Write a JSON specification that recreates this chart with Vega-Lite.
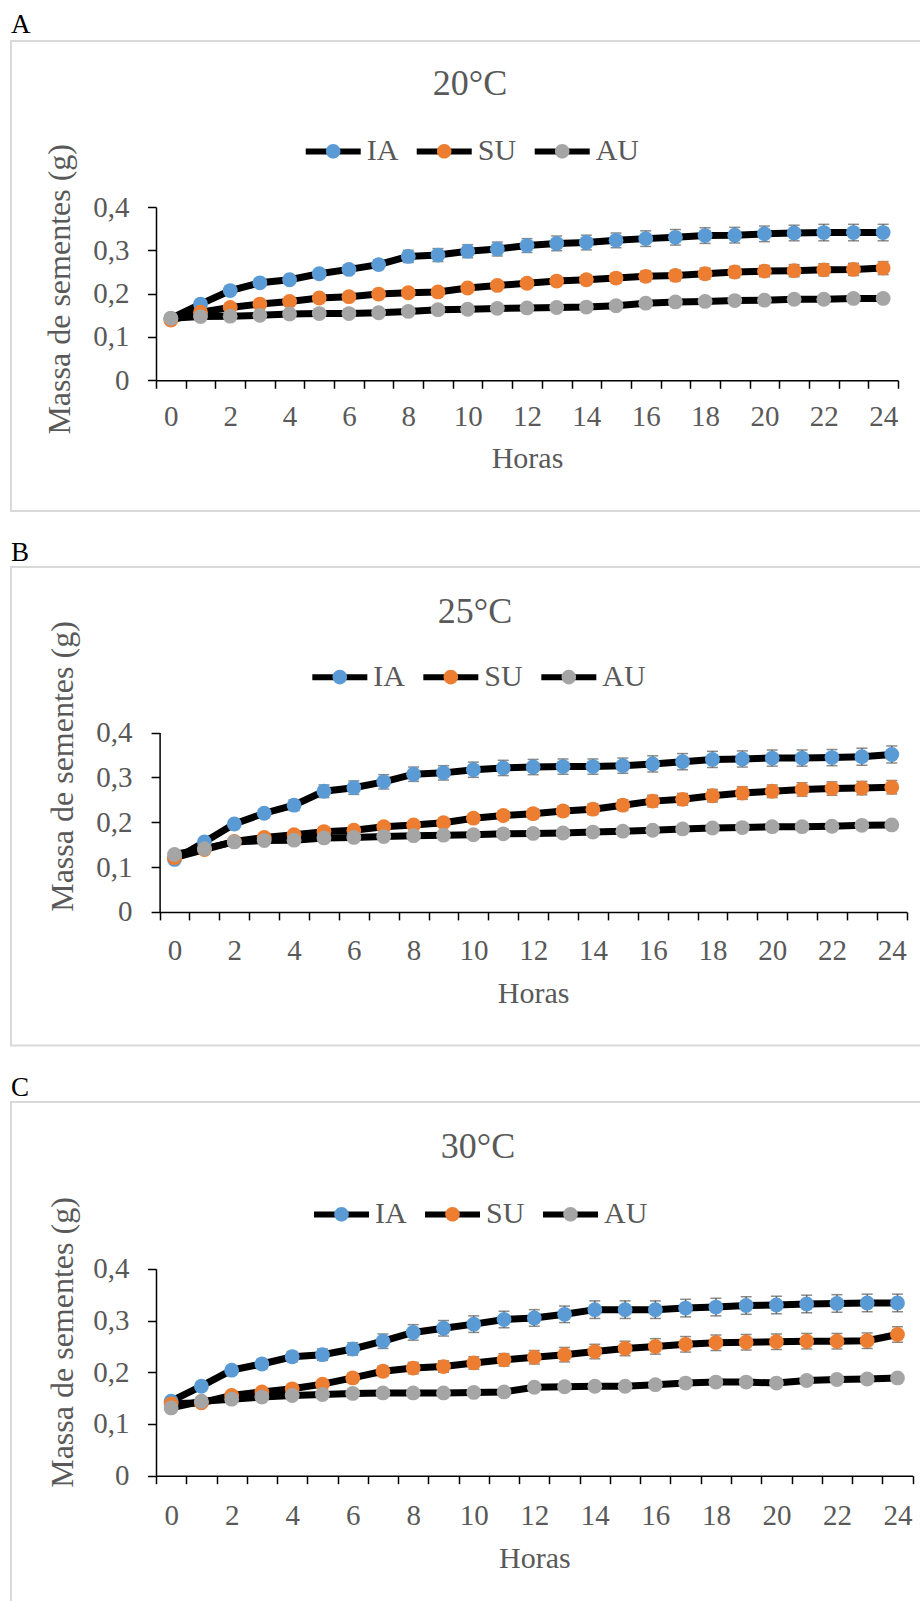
{
  "$schema": "https://vega.github.io/schema/vega-lite/v6.json",
  "padding": {"left": 10, "top": 11, "right": 0, "bottom": 0},
  "background": "white",
  "config": {
    "font": "Liberation Serif",
    "view": {"stroke": "#D9D9D9", "strokeWidth": 2},
    "axis": {"labelFont": "Liberation Serif", "titleFont": "Liberation Serif", "titleFontWeight": "normal", "domainColor": "black", "domainWidth": 1.5, "tickColor": "black", "tickWidth": 1.5, "labelColor": "#595959", "titleColor": "#595959", "labelFontSize": 29, "titleFontSize": 30, "grid": false},
    "legend": {"labelFont": "Liberation Serif", "labelFontSize": 30, "labelColor": "#595959", "padding": 0, "title": null, "orient": "none", "direction": "horizontal", "symbolSize": 3025, "symbolStrokeWidth": 6, "labelOffset": 6, "columnPadding": 6}
  },
  "datasets": {
    "d": [
      {"p":"A","s":"IA","h":0,"m":0.143,"e":0.004},{"p":"A","s":"IA","h":1,"m":0.176,"e":0.005},{"p":"A","s":"IA","h":2,"m":0.207,"e":0.006},{"p":"A","s":"IA","h":3,"m":0.225,"e":0.007},{"p":"A","s":"IA","h":4,"m":0.232,"e":0.008},{"p":"A","s":"IA","h":5,"m":0.246,"e":0.009},{"p":"A","s":"IA","h":6,"m":0.256,"e":0.010},{"p":"A","s":"IA","h":7,"m":0.267,"e":0.011},{"p":"A","s":"IA","h":8,"m":0.286,"e":0.014},{"p":"A","s":"IA","h":9,"m":0.289,"e":0.015},{"p":"A","s":"IA","h":10,"m":0.298,"e":0.015},{"p":"A","s":"IA","h":11,"m":0.303,"e":0.016},{"p":"A","s":"IA","h":12,"m":0.311,"e":0.016},{"p":"A","s":"IA","h":13,"m":0.316,"e":0.017},{"p":"A","s":"IA","h":14,"m":0.318,"e":0.017},{"p":"A","s":"IA","h":15,"m":0.323,"e":0.017},{"p":"A","s":"IA","h":16,"m":0.327,"e":0.018},{"p":"A","s":"IA","h":17,"m":0.330,"e":0.018},{"p":"A","s":"IA","h":18,"m":0.334,"e":0.018},{"p":"A","s":"IA","h":19,"m":0.335,"e":0.018},{"p":"A","s":"IA","h":20,"m":0.338,"e":0.018},{"p":"A","s":"IA","h":21,"m":0.340,"e":0.018},{"p":"A","s":"IA","h":22,"m":0.341,"e":0.019},{"p":"A","s":"IA","h":23,"m":0.341,"e":0.019},{"p":"A","s":"IA","h":24,"m":0.341,"e":0.019},
      {"p":"A","s":"SU","h":0,"m":0.139,"e":0.003},{"p":"A","s":"SU","h":1,"m":0.157,"e":0.004},{"p":"A","s":"SU","h":2,"m":0.168,"e":0.005},{"p":"A","s":"SU","h":3,"m":0.176,"e":0.005},{"p":"A","s":"SU","h":4,"m":0.182,"e":0.006},{"p":"A","s":"SU","h":5,"m":0.190,"e":0.006},{"p":"A","s":"SU","h":6,"m":0.193,"e":0.007},{"p":"A","s":"SU","h":7,"m":0.199,"e":0.007},{"p":"A","s":"SU","h":8,"m":0.202,"e":0.008},{"p":"A","s":"SU","h":9,"m":0.204,"e":0.008},{"p":"A","s":"SU","h":10,"m":0.213,"e":0.009},{"p":"A","s":"SU","h":11,"m":0.219,"e":0.009},{"p":"A","s":"SU","h":12,"m":0.224,"e":0.010},{"p":"A","s":"SU","h":13,"m":0.229,"e":0.010},{"p":"A","s":"SU","h":14,"m":0.232,"e":0.011},{"p":"A","s":"SU","h":15,"m":0.236,"e":0.011},{"p":"A","s":"SU","h":16,"m":0.240,"e":0.012},{"p":"A","s":"SU","h":17,"m":0.242,"e":0.012},{"p":"A","s":"SU","h":18,"m":0.246,"e":0.013},{"p":"A","s":"SU","h":19,"m":0.250,"e":0.013},{"p":"A","s":"SU","h":20,"m":0.252,"e":0.013},{"p":"A","s":"SU","h":21,"m":0.253,"e":0.014},{"p":"A","s":"SU","h":22,"m":0.255,"e":0.014},{"p":"A","s":"SU","h":23,"m":0.256,"e":0.014},{"p":"A","s":"SU","h":24,"m":0.259,"e":0.015},
      {"p":"A","s":"AU","h":0,"m":0.143,"e":0.002},{"p":"A","s":"AU","h":1,"m":0.147,"e":0.003},{"p":"A","s":"AU","h":2,"m":0.148,"e":0.003},{"p":"A","s":"AU","h":3,"m":0.150,"e":0.003},{"p":"A","s":"AU","h":4,"m":0.153,"e":0.003},{"p":"A","s":"AU","h":5,"m":0.154,"e":0.004},{"p":"A","s":"AU","h":6,"m":0.154,"e":0.004},{"p":"A","s":"AU","h":7,"m":0.156,"e":0.004},{"p":"A","s":"AU","h":8,"m":0.159,"e":0.004},{"p":"A","s":"AU","h":9,"m":0.163,"e":0.005},{"p":"A","s":"AU","h":10,"m":0.164,"e":0.005},{"p":"A","s":"AU","h":11,"m":0.166,"e":0.005},{"p":"A","s":"AU","h":12,"m":0.167,"e":0.005},{"p":"A","s":"AU","h":13,"m":0.168,"e":0.005},{"p":"A","s":"AU","h":14,"m":0.169,"e":0.006},{"p":"A","s":"AU","h":15,"m":0.172,"e":0.006},{"p":"A","s":"AU","h":16,"m":0.178,"e":0.006},{"p":"A","s":"AU","h":17,"m":0.181,"e":0.006},{"p":"A","s":"AU","h":18,"m":0.182,"e":0.006},{"p":"A","s":"AU","h":19,"m":0.184,"e":0.006},{"p":"A","s":"AU","h":20,"m":0.185,"e":0.007},{"p":"A","s":"AU","h":21,"m":0.187,"e":0.007},{"p":"A","s":"AU","h":22,"m":0.187,"e":0.007},{"p":"A","s":"AU","h":23,"m":0.189,"e":0.007},{"p":"A","s":"AU","h":24,"m":0.189,"e":0.007},
      {"p":"B","s":"IA","h":0,"m":0.117,"e":0.004},{"p":"B","s":"IA","h":1,"m":0.156,"e":0.006},{"p":"B","s":"IA","h":2,"m":0.196,"e":0.008},{"p":"B","s":"IA","h":3,"m":0.220,"e":0.010},{"p":"B","s":"IA","h":4,"m":0.238,"e":0.012},{"p":"B","s":"IA","h":5,"m":0.269,"e":0.014},{"p":"B","s":"IA","h":6,"m":0.277,"e":0.015},{"p":"B","s":"IA","h":7,"m":0.290,"e":0.016},{"p":"B","s":"IA","h":8,"m":0.307,"e":0.016},{"p":"B","s":"IA","h":9,"m":0.310,"e":0.016},{"p":"B","s":"IA","h":10,"m":0.317,"e":0.017},{"p":"B","s":"IA","h":11,"m":0.321,"e":0.017},{"p":"B","s":"IA","h":12,"m":0.323,"e":0.017},{"p":"B","s":"IA","h":13,"m":0.324,"e":0.017},{"p":"B","s":"IA","h":14,"m":0.324,"e":0.017},{"p":"B","s":"IA","h":15,"m":0.326,"e":0.017},{"p":"B","s":"IA","h":16,"m":0.330,"e":0.018},{"p":"B","s":"IA","h":17,"m":0.335,"e":0.018},{"p":"B","s":"IA","h":18,"m":0.340,"e":0.018},{"p":"B","s":"IA","h":19,"m":0.341,"e":0.018},{"p":"B","s":"IA","h":20,"m":0.343,"e":0.018},{"p":"B","s":"IA","h":21,"m":0.343,"e":0.018},{"p":"B","s":"IA","h":22,"m":0.344,"e":0.018},{"p":"B","s":"IA","h":23,"m":0.346,"e":0.019},{"p":"B","s":"IA","h":24,"m":0.351,"e":0.019},
      {"p":"B","s":"SU","h":0,"m":0.121,"e":0.003},{"p":"B","s":"SU","h":1,"m":0.139,"e":0.004},{"p":"B","s":"SU","h":2,"m":0.157,"e":0.005},{"p":"B","s":"SU","h":3,"m":0.166,"e":0.006},{"p":"B","s":"SU","h":4,"m":0.172,"e":0.006},{"p":"B","s":"SU","h":5,"m":0.179,"e":0.007},{"p":"B","s":"SU","h":6,"m":0.182,"e":0.007},{"p":"B","s":"SU","h":7,"m":0.190,"e":0.008},{"p":"B","s":"SU","h":8,"m":0.194,"e":0.008},{"p":"B","s":"SU","h":9,"m":0.199,"e":0.009},{"p":"B","s":"SU","h":10,"m":0.209,"e":0.010},{"p":"B","s":"SU","h":11,"m":0.215,"e":0.010},{"p":"B","s":"SU","h":12,"m":0.219,"e":0.011},{"p":"B","s":"SU","h":13,"m":0.225,"e":0.011},{"p":"B","s":"SU","h":14,"m":0.229,"e":0.012},{"p":"B","s":"SU","h":15,"m":0.238,"e":0.012},{"p":"B","s":"SU","h":16,"m":0.247,"e":0.013},{"p":"B","s":"SU","h":17,"m":0.251,"e":0.013},{"p":"B","s":"SU","h":18,"m":0.259,"e":0.014},{"p":"B","s":"SU","h":19,"m":0.265,"e":0.014},{"p":"B","s":"SU","h":20,"m":0.269,"e":0.014},{"p":"B","s":"SU","h":21,"m":0.273,"e":0.015},{"p":"B","s":"SU","h":22,"m":0.275,"e":0.015},{"p":"B","s":"SU","h":23,"m":0.276,"e":0.015},{"p":"B","s":"SU","h":24,"m":0.278,"e":0.015},
      {"p":"B","s":"AU","h":0,"m":0.128,"e":0.002},{"p":"B","s":"AU","h":1,"m":0.141,"e":0.003},{"p":"B","s":"AU","h":2,"m":0.156,"e":0.003},{"p":"B","s":"AU","h":3,"m":0.159,"e":0.003},{"p":"B","s":"AU","h":4,"m":0.160,"e":0.003},{"p":"B","s":"AU","h":5,"m":0.165,"e":0.004},{"p":"B","s":"AU","h":6,"m":0.166,"e":0.004},{"p":"B","s":"AU","h":7,"m":0.168,"e":0.004},{"p":"B","s":"AU","h":8,"m":0.170,"e":0.004},{"p":"B","s":"AU","h":9,"m":0.171,"e":0.005},{"p":"B","s":"AU","h":10,"m":0.172,"e":0.005},{"p":"B","s":"AU","h":11,"m":0.174,"e":0.005},{"p":"B","s":"AU","h":12,"m":0.175,"e":0.005},{"p":"B","s":"AU","h":13,"m":0.176,"e":0.005},{"p":"B","s":"AU","h":14,"m":0.178,"e":0.006},{"p":"B","s":"AU","h":15,"m":0.180,"e":0.006},{"p":"B","s":"AU","h":16,"m":0.182,"e":0.006},{"p":"B","s":"AU","h":17,"m":0.185,"e":0.006},{"p":"B","s":"AU","h":18,"m":0.187,"e":0.006},{"p":"B","s":"AU","h":19,"m":0.188,"e":0.006},{"p":"B","s":"AU","h":20,"m":0.190,"e":0.007},{"p":"B","s":"AU","h":21,"m":0.190,"e":0.007},{"p":"B","s":"AU","h":22,"m":0.191,"e":0.007},{"p":"B","s":"AU","h":23,"m":0.193,"e":0.007},{"p":"B","s":"AU","h":24,"m":0.194,"e":0.007},
      {"p":"C","s":"IA","h":0,"m":0.144,"e":0.004},{"p":"C","s":"IA","h":1,"m":0.173,"e":0.006},{"p":"C","s":"IA","h":2,"m":0.204,"e":0.008},{"p":"C","s":"IA","h":3,"m":0.216,"e":0.009},{"p":"C","s":"IA","h":4,"m":0.230,"e":0.010},{"p":"C","s":"IA","h":5,"m":0.234,"e":0.011},{"p":"C","s":"IA","h":6,"m":0.245,"e":0.012},{"p":"C","s":"IA","h":7,"m":0.260,"e":0.014},{"p":"C","s":"IA","h":8,"m":0.277,"e":0.015},{"p":"C","s":"IA","h":9,"m":0.285,"e":0.015},{"p":"C","s":"IA","h":10,"m":0.293,"e":0.016},{"p":"C","s":"IA","h":11,"m":0.302,"e":0.016},{"p":"C","s":"IA","h":12,"m":0.305,"e":0.016},{"p":"C","s":"IA","h":13,"m":0.312,"e":0.016},{"p":"C","s":"IA","h":14,"m":0.321,"e":0.017},{"p":"C","s":"IA","h":15,"m":0.321,"e":0.017},{"p":"C","s":"IA","h":16,"m":0.321,"e":0.017},{"p":"C","s":"IA","h":17,"m":0.324,"e":0.017},{"p":"C","s":"IA","h":18,"m":0.326,"e":0.017},{"p":"C","s":"IA","h":19,"m":0.329,"e":0.017},{"p":"C","s":"IA","h":20,"m":0.330,"e":0.017},{"p":"C","s":"IA","h":21,"m":0.332,"e":0.017},{"p":"C","s":"IA","h":22,"m":0.333,"e":0.017},{"p":"C","s":"IA","h":23,"m":0.334,"e":0.017},{"p":"C","s":"IA","h":24,"m":0.334,"e":0.017},
      {"p":"C","s":"SU","h":0,"m":0.139,"e":0.003},{"p":"C","s":"SU","h":1,"m":0.141,"e":0.004},{"p":"C","s":"SU","h":2,"m":0.155,"e":0.005},{"p":"C","s":"SU","h":3,"m":0.162,"e":0.006},{"p":"C","s":"SU","h":4,"m":0.168,"e":0.007},{"p":"C","s":"SU","h":5,"m":0.177,"e":0.008},{"p":"C","s":"SU","h":6,"m":0.189,"e":0.009},{"p":"C","s":"SU","h":7,"m":0.202,"e":0.010},{"p":"C","s":"SU","h":8,"m":0.208,"e":0.011},{"p":"C","s":"SU","h":9,"m":0.211,"e":0.011},{"p":"C","s":"SU","h":10,"m":0.218,"e":0.012},{"p":"C","s":"SU","h":11,"m":0.224,"e":0.012},{"p":"C","s":"SU","h":12,"m":0.229,"e":0.013},{"p":"C","s":"SU","h":13,"m":0.234,"e":0.014},{"p":"C","s":"SU","h":14,"m":0.240,"e":0.014},{"p":"C","s":"SU","h":15,"m":0.246,"e":0.014},{"p":"C","s":"SU","h":16,"m":0.250,"e":0.015},{"p":"C","s":"SU","h":17,"m":0.254,"e":0.015},{"p":"C","s":"SU","h":18,"m":0.257,"e":0.015},{"p":"C","s":"SU","h":19,"m":0.258,"e":0.015},{"p":"C","s":"SU","h":20,"m":0.259,"e":0.015},{"p":"C","s":"SU","h":21,"m":0.260,"e":0.015},{"p":"C","s":"SU","h":22,"m":0.260,"e":0.015},{"p":"C","s":"SU","h":23,"m":0.261,"e":0.015},{"p":"C","s":"SU","h":24,"m":0.273,"e":0.015},
      {"p":"C","s":"AU","h":0,"m":0.131,"e":0.002},{"p":"C","s":"AU","h":1,"m":0.144,"e":0.003},{"p":"C","s":"AU","h":2,"m":0.148,"e":0.003},{"p":"C","s":"AU","h":3,"m":0.152,"e":0.003},{"p":"C","s":"AU","h":4,"m":0.155,"e":0.003},{"p":"C","s":"AU","h":5,"m":0.157,"e":0.004},{"p":"C","s":"AU","h":6,"m":0.159,"e":0.004},{"p":"C","s":"AU","h":7,"m":0.160,"e":0.004},{"p":"C","s":"AU","h":8,"m":0.160,"e":0.004},{"p":"C","s":"AU","h":9,"m":0.160,"e":0.005},{"p":"C","s":"AU","h":10,"m":0.161,"e":0.005},{"p":"C","s":"AU","h":11,"m":0.162,"e":0.005},{"p":"C","s":"AU","h":12,"m":0.171,"e":0.005},{"p":"C","s":"AU","h":13,"m":0.172,"e":0.005},{"p":"C","s":"AU","h":14,"m":0.173,"e":0.006},{"p":"C","s":"AU","h":15,"m":0.173,"e":0.006},{"p":"C","s":"AU","h":16,"m":0.176,"e":0.006},{"p":"C","s":"AU","h":17,"m":0.179,"e":0.006},{"p":"C","s":"AU","h":18,"m":0.181,"e":0.006},{"p":"C","s":"AU","h":19,"m":0.181,"e":0.006},{"p":"C","s":"AU","h":20,"m":0.179,"e":0.007},{"p":"C","s":"AU","h":21,"m":0.184,"e":0.007},{"p":"C","s":"AU","h":22,"m":0.186,"e":0.007},{"p":"C","s":"AU","h":23,"m":0.187,"e":0.007},{"p":"C","s":"AU","h":24,"m":0.189,"e":0.007}
    ]
  },
  "data": {"name": "d"},
  "spacing": 26,
  "resolve": {"scale": {"stroke": "independent", "fill": "independent"}},
  "vconcat": [
    {
      "title": {"text": "A", "anchor": "start", "frame": "group", "fontSize": 27, "color": "black", "fontWeight": "normal", "font": "Liberation Serif", "baseline": "alphabetic", "offset": -20.3},
      "resolve": {"scale": {"stroke": "independent", "fill": "independent"}},
      "vconcat": [
        {
          "width": 912, "height": 470,
          "title": {"text": "20°C", "fontSize": 36, "offset": -90.3, "dx": 3, "baseline": "alphabetic", "frame": "group", "anchor": "middle", "color": "#595959", "fontWeight": "normal", "font": "Liberation Serif"},
          "transform": [{"filter": "datum.p == 'A'"}],
          "encoding": {
            "x": {"field": "h", "type": "ordinal", "scale": {"type": "band", "range": [145, 887], "paddingInner": 0, "paddingOuter": 0},
              "axis": {"orient": "bottom", "offset": -130.7, "tickBand": "extent", "labelAngle": 0, "labelOverlap": false, "labelExpr": "datum.value % 2 == 0 ? datum.label : ''", "tickSize": 8, "labelPadding": 14.5, "title": "Horas", "titlePadding": 11.5}},
            "y": {"field": "m", "type": "quantitative", "scale": {"domain": [0, 0.4], "range": [339.3, 166], "nice": false, "zero": false},
              "axis": {"orient": "left", "offset": -145, "values": [0, 0.1, 0.2, 0.3, 0.4], "labelExpr": "datum.value == 0 ? '0' : replace(format(datum.value, '.1f'), '.', ',')", "tickSize": 8.5, "labelPadding": 18.5, "title": "Massa de sementes (g)", "titleFontSize": 32, "titleX": -80, "titleY": 247.8}}
          },
          "layer": [
            {"mark": {"type": "line", "strokeWidth": 7},
             "encoding": {"stroke": {"field": "s", "type": "nominal", "scale": {"domain": ["IA", "SU", "AU"], "range": ["black", "black", "black"]},
               "legend": {"legendX": 288.7, "legendY": 79.7, "symbolType": "M-0.89,0L1.11,0", "labelOpacity": 0}}}},
            {"mark": {"type": "errorbar", "ticks": {"size": 11, "thickness": 1.5, "color": "#595959"}, "rule": {"strokeWidth": 1.5, "color": "#595959"}},
             "encoding": {"yError": {"field": "e"}}},
            {"mark": {"type": "point", "filled": true, "size": 220, "opacity": 1},
             "encoding": {"fill": {"field": "s", "type": "nominal", "sort": ["IA", "SU", "AU"], "scale": {"range": ["#5B9BD5", "#ED7D31", "#A5A5A5"]},
               "legend": {"legendX": 288.7, "legendY": 79.7, "symbolType": "M-0.89,0L1.11,0M-0.155,0A0.265,0.265,0,1,1,0.375,0A0.265,0.265,0,1,1,-0.155,0Z", "symbolStrokeColor": "transparent"}}}}
          ]
        }
      ]
    },
    {
      "title": {"text": "B", "anchor": "start", "frame": "group", "fontSize": 27, "color": "black", "fontWeight": "normal", "font": "Liberation Serif", "baseline": "alphabetic", "offset": -21.5},
      "resolve": {"scale": {"stroke": "independent", "fill": "independent"}},
      "vconcat": [
        {
          "width": 912, "height": 478.5,
          "title": {"text": "25°C", "fontSize": 36, "offset": -91.5, "dx": 8, "baseline": "alphabetic", "frame": "group", "anchor": "middle", "color": "#595959", "fontWeight": "normal", "font": "Liberation Serif"},
          "transform": [{"filter": "datum.p == 'B'"}],
          "encoding": {
            "x": {"field": "h", "type": "ordinal", "scale": {"type": "band", "range": [148.6, 895.7], "paddingInner": 0, "paddingOuter": 0},
              "axis": {"orient": "bottom", "offset": -133.6, "tickBand": "extent", "labelAngle": 0, "labelOverlap": false, "labelExpr": "datum.value % 2 == 0 ? datum.label : ''", "tickSize": 8, "labelPadding": 16.7, "title": "Horas", "titlePadding": 13}},
            "y": {"field": "m", "type": "quantitative", "scale": {"domain": [0, 0.4], "range": [344.9, 165.5], "nice": false, "zero": false},
              "axis": {"orient": "left", "offset": -148.6, "values": [0, 0.1, 0.2, 0.3, 0.4], "labelExpr": "datum.value == 0 ? '0' : replace(format(datum.value, '.1f'), '.', ',')", "tickSize": 8.5, "labelPadding": 19, "title": "Massa de sementes (g)", "titleFontSize": 32, "titleX": -80.4, "titleY": 199}}
          },
          "layer": [
            {"mark": {"type": "line", "strokeWidth": 7},
             "encoding": {"stroke": {"field": "s", "type": "nominal", "scale": {"domain": ["IA", "SU", "AU"], "range": ["black", "black", "black"]},
               "legend": {"legendX": 295.3, "legendY": 79.5, "symbolType": "M-0.89,0L1.11,0", "labelOpacity": 0}}}},
            {"mark": {"type": "errorbar", "ticks": {"size": 11, "thickness": 1.5, "color": "#595959"}, "rule": {"strokeWidth": 1.5, "color": "#595959"}},
             "encoding": {"yError": {"field": "e"}}},
            {"mark": {"type": "point", "filled": true, "size": 220, "opacity": 1},
             "encoding": {"fill": {"field": "s", "type": "nominal", "sort": ["IA", "SU", "AU"], "scale": {"range": ["#5B9BD5", "#ED7D31", "#A5A5A5"]},
               "legend": {"legendX": 295.3, "legendY": 79.5, "symbolType": "M-0.89,0L1.11,0M-0.155,0A0.265,0.265,0,1,1,0.375,0A0.265,0.265,0,1,1,-0.155,0Z", "symbolStrokeColor": "transparent"}}}}
          ]
        }
      ]
    },
    {
      "title": {"text": "C", "anchor": "start", "frame": "group", "fontSize": 27, "color": "black", "fontWeight": "normal", "font": "Liberation Serif", "baseline": "alphabetic", "offset": -21.5},
      "resolve": {"scale": {"stroke": "independent", "fill": "independent"}},
      "vconcat": [
        {
          "width": 912, "height": 500,
          "title": {"text": "30°C", "fontSize": 36, "offset": -92.4, "dx": 11, "baseline": "alphabetic", "frame": "group", "anchor": "middle", "color": "#595959", "fontWeight": "normal", "font": "Liberation Serif"},
          "transform": [{"filter": "datum.p == 'C'"}],
          "encoding": {
            "x": {"field": "h", "type": "ordinal", "scale": {"type": "band", "range": [145, 901.6], "paddingInner": 0, "paddingOuter": 0},
              "axis": {"orient": "bottom", "offset": -126.3, "tickBand": "extent", "labelAngle": 0, "labelOverlap": false, "labelExpr": "datum.value % 2 == 0 ? datum.label : ''", "tickSize": 8, "labelPadding": 17.5, "title": "Horas", "titlePadding": 13.4}},
            "y": {"field": "m", "type": "quantitative", "scale": {"domain": [0, 0.4], "range": [373.7, 166.8], "nice": false, "zero": false},
              "axis": {"orient": "left", "offset": -145, "values": [0, 0.1, 0.2, 0.3, 0.4], "labelExpr": "datum.value == 0 ? '0' : replace(format(datum.value, '.1f'), '.', ',')", "tickSize": 8.5, "labelPadding": 18.5, "title": "Massa de sementes (g)", "titleFontSize": 32, "titleX": -77, "titleY": 240}}
          },
          "layer": [
            {"mark": {"type": "line", "strokeWidth": 7},
             "encoding": {"stroke": {"field": "s", "type": "nominal", "scale": {"domain": ["IA", "SU", "AU"], "range": ["black", "black", "black"]},
               "legend": {"legendX": 297, "legendY": 81.7, "symbolType": "M-0.89,0L1.11,0", "labelOpacity": 0}}}},
            {"mark": {"type": "errorbar", "ticks": {"size": 11, "thickness": 1.5, "color": "#595959"}, "rule": {"strokeWidth": 1.5, "color": "#595959"}},
             "encoding": {"yError": {"field": "e"}}},
            {"mark": {"type": "point", "filled": true, "size": 220, "opacity": 1},
             "encoding": {"fill": {"field": "s", "type": "nominal", "sort": ["IA", "SU", "AU"], "scale": {"range": ["#5B9BD5", "#ED7D31", "#A5A5A5"]},
               "legend": {"legendX": 297, "legendY": 81.7, "symbolType": "M-0.89,0L1.11,0M-0.155,0A0.265,0.265,0,1,1,0.375,0A0.265,0.265,0,1,1,-0.155,0Z", "symbolStrokeColor": "transparent"}}}}
          ]
        }
      ]
    }
  ]
}
